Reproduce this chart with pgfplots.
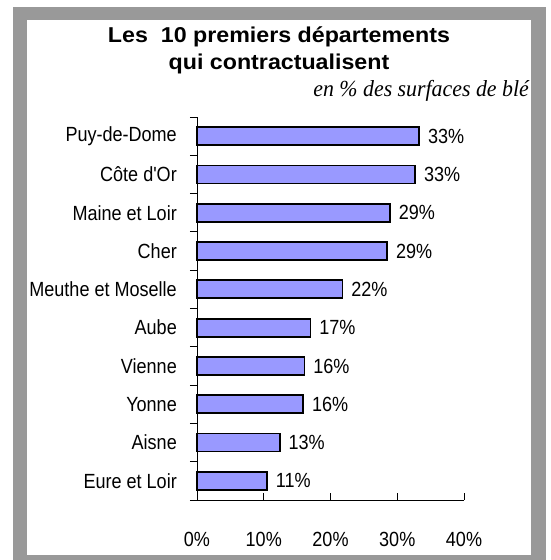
\documentclass[border=0pt]{standalone}
\usepackage{pgfplots}
\pgfplotsset{compat=1.18}
\usepackage{fontspec}
\setmainfont{Liberation Sans}
\newfontfamily\narrowsans{Liberation Sans}[FakeStretch=0.88]
\newfontfamily\widebold{Liberation Sans Bold}[FakeStretch=1.08]
\newfontfamily\serifit{Liberation Serif Italic}[FakeStretch=0.95]
\definecolor{barblue}{HTML}{9999FF}
\definecolor{framegray}{HTML}{999999}
\begin{document}
\begin{tikzpicture}[x=1pt,y=1pt]
\fill[white] (0,0) rectangle (550,560);
\fill[framegray] (13,0) rectangle (546,553);
\fill[white] (27,5) rectangle (531,540);
\node[anchor=base, font=\fontsize{21.5}{24}\widebold, inner sep=0pt] at (279,517) {Les\ \ 10 premiers départements};
\node[anchor=base, font=\fontsize{21.5}{24}\widebold, inner sep=0pt] at (279,490) {qui contractualisent};
\node[anchor=base east, font=\fontsize{23}{26}\serifit, inner sep=0pt] at (529,463) {en \% des surfaces de blé};
\begin{axis}[
  at={(197pt,60pt)}, anchor=south west,
  scale only axis, width=267pt, height=383pt,
  xmin=0, xmax=40, ymin=0, ymax=10,
  clip=false,
  axis lines*=left,
  axis line style={black, line width=0.9pt},
  xtick={0,10,20,30,40},
  xticklabels={0\%,10\%,20\%,30\%,40\%},
  xtick align=inside,
  ytick={0,...,10}, yticklabels={},
  ytick align=outside,
  major tick length=7pt,
  tick style={black, line width=0.9pt},
  xticklabel style={font=\fontsize{20.5}{22}\narrowsans, inner sep=0pt, anchor=base, yshift=-46pt},
  extra y ticks={0.5,1.5,2.5,3.5,4.5,5.5,6.5,7.5,8.5,9.5},
  extra y tick labels={Eure et Loir, Aisne, Yonne, Vienne, Aube, Meuthe et Moselle, Cher, Maine et Loir, Côte d'Or, Puy-de-Dome},
  extra y tick style={tick style={draw=none}, yticklabel style={font=\fontsize{20.5}{22}\narrowsans, inner sep=0pt, anchor=east, xshift=-13pt}},
]
\addplot[xbar, bar width=18pt, fill=barblue, draw=black, line width=1.8pt,
  nodes near coords, point meta=explicit symbolic,
  nodes near coords style={font=\fontsize{20.5}{22}\narrowsans, anchor=west, inner sep=0pt, xshift=8pt}]
coordinates {
(10.5,0.5) [11\%]
(12.4,1.5) [13\%]
(15.9,2.5) [16\%]
(16.1,3.5) [16\%]
(17.0,4.5) [17\%]
(21.8,5.5) [22\%]
(28.5,6.5) [29\%]
(28.9,7.5) [29\%]
(32.7,8.5) [33\%]
(33.3,9.5) [33\%]
};
\end{axis}
\end{tikzpicture}
\end{document}
